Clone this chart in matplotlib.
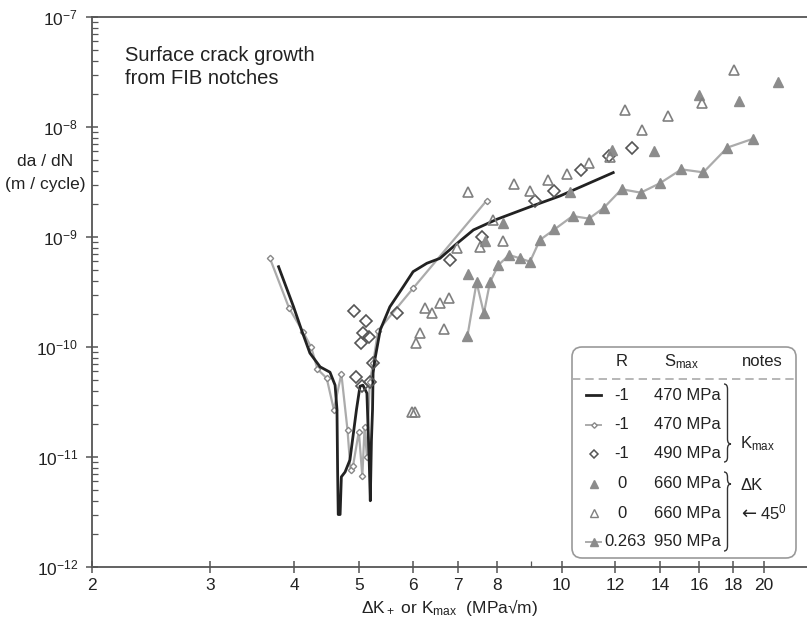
import matplotlib
matplotlib.use("Agg")
import matplotlib.pyplot as plt
import matplotlib.ticker as mticker
from matplotlib.lines import Line2D
from matplotlib.patches import FancyBboxPatch, PathPatch
from matplotlib.path import Path
from matplotlib.transforms import Affine2D

plt.rcParams['font.family'] = ['Liberation Sans', 'DejaVu Sans']
plt.rcParams['mathtext.fontset'] = 'custom'
plt.rcParams['mathtext.rm'] = 'Liberation Sans'
plt.rcParams['mathtext.it'] = 'Liberation Sans:italic'
plt.rcParams['mathtext.bf'] = 'Liberation Sans:bold'

# R=-1, 470 MPa, fitted curve (no markers)
k1 = [3.79, 3.99, 4.10, 4.22, 4.37, 4.52, 4.60, 4.63, 4.64, 4.65, 4.68, 4.70, 4.76, 4.84,
      4.95, 5.01, 5.06, 5.13, 5.17, 5.19, 5.21, 5.23, 5.24, 5.27, 5.37, 5.55, 5.81, 6.01,
      6.30, 6.59, 6.94, 7.39, 8.01, 8.97, 9.94, 11.93]
r1 = [5.37e-10, 2.32e-10, 1.43e-10, 8.8e-11, 6.6e-11, 5.9e-11, 4.5e-11, 2.7e-11, 7.6e-12,
      3.0e-12, 3.0e-12, 6.6e-12, 7.3e-12, 9.4e-12, 2.7e-11, 4.4e-11, 4.5e-11, 3.8e-11,
      9.4e-12, 4.0e-12, 1.4e-11, 2.7e-11, 5.8e-11, 7.6e-11, 1.43e-10, 2.32e-10, 3.53e-10,
      4.84e-10, 5.77e-10, 6.4e-10, 8.45e-10, 1.16e-9, 1.45e-9, 1.88e-9, 2.36e-9, 3.85e-9]

# R=-1, 470 MPa, measured points joined by a line
k2 = [3.68, 3.93, 4.12, 4.24, 4.33, 4.47, 4.58, 4.70, 4.80, 4.85, 4.89, 4.99, 5.05, 5.09,
      5.13, 5.18, 5.24, 5.33, 6.01, 7.73]
r2 = [6.4e-10, 2.25e-10, 1.38e-10, 9.9e-11, 6.3e-11, 5.2e-11, 2.7e-11, 5.7e-11, 1.76e-11,
      7.6e-12, 8.2e-12, 1.7e-11, 6.7e-12, 1.88e-11, 1.0e-11, 4.8e-11, 7.1e-11, 1.41e-10,
      3.42e-10, 2.14e-9]

# R=-1, 490 MPa
k3 = [4.90, 5.11, 5.06, 5.17, 5.02, 4.94, 5.05, 5.18, 5.24, 5.68, 6.82, 7.60, 9.14, 9.74,
      10.67, 11.77, 12.71]
r3 = [2.12e-10, 1.73e-10, 1.33e-10, 1.24e-10, 1.08e-10, 5.3e-11, 4.4e-11, 4.8e-11, 7.2e-11,
      2.02e-10, 6.2e-10, 1.0e-9, 2.14e-9, 2.62e-9, 4.07e-9, 5.45e-9, 6.5e-9]

# R=0, 660 MPa
k4 = [7.26, 7.69, 8.19, 10.29, 11.87, 13.72, 16.03, 18.36, 20.96]
r4 = [4.58e-10, 9.2e-10, 1.35e-9, 2.58e-9, 6.2e-9, 6.0e-9, 1.94e-8, 1.71e-8, 2.58e-8]

# R=0, 660 MPa, 45 deg
k5 = [5.98, 6.04, 6.08, 6.15, 6.26, 6.41, 6.58, 6.69, 6.80, 6.98, 7.25, 7.56, 7.91, 8.19,
      8.50, 8.97, 9.55, 10.19, 10.97, 11.80, 12.43, 13.18, 14.41, 16.16, 18.05]
r5 = [2.58e-11, 2.57e-11, 1.09e-10, 1.35e-10, 2.25e-10, 2.02e-10, 2.53e-10, 1.46e-10,
      2.77e-10, 8.0e-10, 2.58e-9, 8.05e-10, 1.43e-9, 9.2e-10, 3.03e-9, 2.62e-9, 3.3e-9,
      3.72e-9, 4.68e-9, 5.37e-9, 1.43e-8, 9.4e-9, 1.26e-8, 1.64e-8, 3.3e-8]

# R=0.263, 950 MPa
k6 = [7.24, 7.47, 7.66, 7.82, 8.05, 8.35, 8.67, 8.97, 9.28, 9.75, 10.38, 10.98, 11.56,
      12.28, 13.11, 14.0, 15.07, 16.25, 17.64, 19.24]
r6 = [1.26e-10, 3.87e-10, 2.02e-10, 3.87e-10, 5.56e-10, 6.86e-10, 6.4e-10, 5.96e-10,
      9.4e-10, 1.17e-9, 1.55e-9, 1.47e-9, 1.85e-9, 2.72e-9, 2.53e-9, 3.08e-9, 4.12e-9,
      3.87e-9, 6.5e-9, 7.8e-9]

xticks = [2, 3, 4, 5, 6, 7, 8, 10, 12, 14, 16, 18, 20]
legend_rows = [('-1', '470 MPa'), ('-1', '470 MPa'), ('-1', '490 MPa'),
               ('0', '660 MPa'), ('0', '660 MPa'), ('0.263', '950 MPa')]

W, H = 807, 623
DARK = '#222222'
LINE_GREY = '#ababab'
TRI_GREY = '#8c8c8c'

fig = plt.figure(figsize=(W / 100, H / 100), dpi=100)
ax = fig.add_axes([92 / W, 1 - 567 / H, 715 / W, 550 / H])
# pixel coordinates, origin top-left
pix = Affine2D().scale(1 / W, -1 / H).translate(0, 1) + fig.transFigure

ax.plot(k1, r1, color=DARK, lw=2.0, zorder=4)
ax.plot(k2, r2, color=LINE_GREY, lw=1.6, marker='D', ms=3.2, mfc='white',
        mec='#888888', mew=1.0, zorder=3)
ax.plot(k3, r3, ls='none', marker='D', ms=6, mfc='none', mec='#555555', mew=1.2, zorder=5)
ax.plot(k4, r4, ls='none', marker='^', ms=7, color=TRI_GREY, zorder=5)
ax.plot(k5, r5, ls='none', marker='^', ms=7.5, mfc='none', mec='#808080', mew=1.2, zorder=5)
ax.plot(k6, r6, color=LINE_GREY, lw=1.6, marker='^', ms=6.5, mfc=TRI_GREY,
        mec=TRI_GREY, zorder=4)

ax.set_xscale('log')
ax.set_yscale('log')
ax.set_xlim(2, 2 * 10 ** (715 / 672))
ax.set_ylim(1e-12, 1e-7)

ax.xaxis.set_major_locator(mticker.FixedLocator(xticks))
ax.xaxis.set_major_formatter(mticker.FixedFormatter([str(t) for t in xticks]))
ax.xaxis.set_minor_locator(mticker.FixedLocator([9]))
ax.xaxis.set_minor_formatter(mticker.NullFormatter())
ax.yaxis.set_major_locator(mticker.LogLocator(base=10, numticks=10))
ax.yaxis.set_minor_locator(mticker.LogLocator(base=10, subs=range(2, 10), numticks=10))
ax.yaxis.set_minor_formatter(mticker.NullFormatter())

ax.tick_params(axis='both', which='major', direction='inout', length=8, width=1.1,
               color='#555555', labelsize=12.5, labelcolor='#222222')
ax.tick_params(axis='both', which='minor', direction='in', length=4, width=0.9,
               color='#555555')
ax.tick_params(axis='x', which='major', pad=4)
ax.tick_params(axis='y', which='major', pad=6)

for side in ('left', 'bottom', 'top'):
    ax.spines[side].set_color('#555555')
    ax.spines[side].set_linewidth(1.3)
ax.spines['right'].set_visible(False)

ax.set_xlabel('ΔK$_+$ or K$_{\\mathrm{max}}$  (MPa√m)',
              fontsize=12.5, color='#222222', labelpad=3)

fig.text(45, 162, 'da / dN', transform=pix, ha='center', va='center', fontsize=12.5,
         color='#222222')
fig.text(45, 184, '(m / cycle)', transform=pix, ha='center', va='center', fontsize=12.5,
         color='#222222')

fig.text(125, 46, 'Surface crack growth\nfrom FIB notches', transform=pix, ha='left',
         va='top', fontsize=14.5, color='#222222', linespacing=1.25)

# legend table
box = FancyBboxPatch((572, 347), 224, 211, boxstyle='round,pad=0,rounding_size=10',
                     transform=pix, fc='white', ec='#9a9a9a', lw=1.2, zorder=6)
fig.add_artist(box)
fig.add_artist(Line2D([572, 796], [379, 379], transform=pix, color='#aaaaaa', lw=1.2,
                      ls=(0, (5, 3)), zorder=7))
fig.text(622, 362, 'R', transform=pix, ha='center', va='center', fontsize=12,
         color='#222222', zorder=7)
fig.text(682, 362, r'S$_{\mathrm{max}}$', transform=pix, ha='center', va='center',
         fontsize=12, color='#222222', zorder=7)
fig.text(762, 362, 'notes', transform=pix, ha='center', va='center', fontsize=12,
         color='#222222', zorder=7)

row_y = [395, 424.5, 454, 483.5, 513, 542]
samples = [
    dict(color=DARK, lw=2.0),
    dict(color=LINE_GREY, lw=1.4, marker='D', ms=2.8, mfc='white', mec='#888888'),
    dict(color='none', marker='D', ms=4.5, mfc='none', mec='#555555', mew=1.1),
    dict(color='none', marker='^', ms=5.5, mfc=TRI_GREY, mec=TRI_GREY),
    dict(color='none', marker='^', ms=5.5, mfc='none', mec='#808080', mew=1.0),
    dict(color=LINE_GREY, lw=1.4, marker='^', ms=5.5, mfc=TRI_GREY, mec=TRI_GREY),
]
for y, (rv, sv), st in zip(row_y, legend_rows, samples):
    fig.add_artist(Line2D([586, 593.5, 601], [y, y, y], transform=pix, markevery=[1],
                          zorder=7, **st))
    fig.text(622 if rv != '0.263' else 625, y, rv, transform=pix, ha='center', va='center',
             fontsize=12, color='#222222', zorder=7)
    fig.text(687, y, sv, transform=pix, ha='center', va='center', fontsize=12,
             color='#222222', zorder=7)


def brace(x0, y_top, y_bot, y_tip, w=7, r=5):
    xm = x0 + w / 2
    verts = [(x0, y_top), (xm, y_top), (xm, y_top + r), (xm, y_top + r),
             (xm, y_tip - r), (xm, y_tip), (x0 + w, y_tip),
             (xm, y_tip), (xm, y_tip + r), (xm, y_tip + r),
             (xm, y_bot - r), (xm, y_bot), (x0, y_bot)]
    codes = [Path.MOVETO, Path.CURVE3, Path.CURVE3, Path.LINETO,
             Path.LINETO, Path.CURVE3, Path.CURVE3,
             Path.CURVE3, Path.CURVE3, Path.LINETO,
             Path.LINETO, Path.CURVE3, Path.CURVE3]
    fig.add_artist(PathPatch(Path(verts, codes), transform=pix, fc='none', ec='#333333',
                             lw=1.0, zorder=7))


brace(724, 384, 462, 444)
brace(724, 472, 551, 484)
fig.text(758, 444, r'K$_{\mathrm{max}}$', transform=pix, ha='center', va='center',
         fontsize=12, color='#222222', zorder=7)
fig.text(752, 486, 'ΔK', transform=pix, ha='center', va='center', fontsize=12,
         color='#222222', zorder=7)
fig.text(741, 514, '←', transform=pix, ha='left', va='center', fontsize=13,
         family=['DejaVu Sans'], color='#222222', zorder=7)
fig.text(787, 512, '45$^{\\mathrm{0}}$', transform=pix, ha='right',
         va='center', fontsize=12, color='#222222', zorder=7)

fig.savefig('out.png', dpi=100, facecolor='white')
